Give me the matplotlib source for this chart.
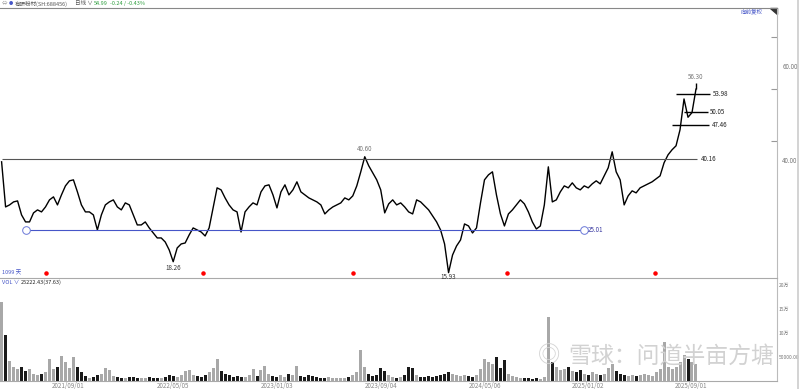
import pandas as pd
import matplotlib
matplotlib.use('Agg')
import matplotlib.pyplot as plt
import matplotlib.dates as mdates
from matplotlib.patches import Polygon
from matplotlib.lines import Line2D

plt.rcParams['font.family'] = ['Noto Sans CJK SC', 'DejaVu Sans']

# closes, roughly every 9 calendar days
close = [
    39.52, 29.92, 30.35, 30.99, 31.20, 28.22, 26.73, 26.73, 28.65, 29.29,
    28.86, 29.92, 31.42, 32.06, 30.35, 32.48, 34.40, 35.47, 35.68, 33.12,
    30.35, 28.86, 28.86, 28.22, 25.02, 28.22, 30.35, 30.99, 31.42, 29.92,
    29.29, 30.78, 30.35, 28.22, 26.09, 26.09, 26.73, 25.45, 24.38, 23.32,
    23.32, 22.46, 20.76, 18.26, 21.19, 22.04, 22.25, 23.96, 25.45, 25.02,
    24.59, 23.74, 25.45, 29.71, 33.98, 33.55, 31.84, 30.35, 29.29, 28.86,
    24.59, 28.86, 29.92, 30.78, 30.35, 33.12, 34.40, 34.62, 32.48, 29.71,
    33.12, 34.62, 32.48, 33.55, 35.26, 33.12, 32.48, 31.84, 31.42, 30.99,
    30.35, 28.43, 29.29, 29.92, 30.35, 30.78, 31.84, 31.42, 32.27, 34.40,
    37.39, 40.60, 38.67, 37.17, 35.68, 33.55, 28.65, 30.57, 31.42, 30.35,
    30.78, 29.92, 28.86, 28.43, 31.42, 30.99, 30.14, 29.29, 28.01, 26.73,
    25.02, 22.04, 15.93, 19.69, 21.61, 22.89, 26.30, 25.87, 24.38, 25.45,
    30.78, 35.68, 36.75, 37.39, 32.48, 28.43, 25.87, 28.43, 29.29, 30.35,
    31.42, 30.57, 28.86, 26.73, 25.23, 25.87, 30.35, 38.45, 30.99, 31.42,
    33.12, 34.40, 33.98, 35.04, 33.98, 33.55, 34.40, 33.98, 34.83, 35.47,
    34.83, 36.53, 38.24, 41.65, 37.39, 35.68, 30.35, 32.27, 33.34, 32.91,
    33.98, 34.40, 34.83, 35.26, 35.90, 36.53, 39.31, 41.01, 42.08, 42.93,
    46.34, 52.90, 49.00, 50.00, 54.99,
]
last_high = 56.30

volume = [
    165000, 95000, 42000, 30000, 26000, 30000, 20000, 24000, 15000, 12000,
    15000, 18000, 45000, 26000, 30000, 52000, 40000, 28000, 50000, 30000,
    18000, 10000, 7000, 8000, 12000, 14000, 28000, 22000, 10000, 8000,
    7000, 6000, 9000, 8000, 7000, 6000, 7000, 8000, 6000, 7000,
    6000, 9000, 12000, 10000, 8000, 12000, 20000, 22000, 12000, 10000,
    8000, 12000, 18000, 28000, 45000, 20000, 15000, 12000, 8000, 10000,
    8000, 9000, 12000, 25000, 10000, 22000, 32000, 15000, 10000, 8000,
    12000, 9000, 15000, 12000, 32000, 10000, 8000, 12000, 10000, 8000,
    7000, 6000, 8000, 7000, 6000, 7000, 6000, 8000, 12000, 18000,
    65000, 30000, 15000, 10000, 12000, 28000, 20000, 12000, 8000, 7000,
    9000, 12000, 30000, 28000, 12000, 9000, 8000, 10000, 9000, 10000,
    12000, 15000, 18000, 14000, 12000, 10000, 12000, 10000, 9000, 12000,
    25000, 45000, 40000, 35000, 50000, 28000, 44000, 15000, 10000, 8000,
    7000, 6000, 6000, 5000, 6000, 5000, 8000, 134000, 40000, 30000,
    22000, 25000, 30000, 20000, 18000, 22000, 15000, 12000, 18000, 14000,
    12000, 15000, 28000, 35000, 20000, 15000, 12000, 10000, 12000, 10000,
    12000, 15000, 12000, 10000, 18000, 25000, 81000, 30000, 25000, 30000,
    40000, 55000, 45000, 40000, 35000,
]

dates = pd.date_range('2021-03-29', '2025-09-12', periods=len(close))
tick_dates = ['2021-09-01', '2022-05-05', '2023-01-03', '2023-09-04',
              '2024-05-06', '2025-01-02', '2025-09-01']
dividend_dates = ['2021-07-12', '2022-07-14', '2023-06-30', '2024-06-25', '2025-06-09']

resist = 40.16
support = 25.01
short_levels = [53.98, 50.05, 47.46]
peak_hi, low_1, low_2 = 40.60, 18.26, 15.93

blue = '#4656c8'
gray = '#777777'

fig = plt.figure(figsize=(8, 3.89), dpi=100)
ax = fig.add_axes([0, 0.2853, 0.971, 0.6954])
axv = fig.add_axes([0, 0.0206, 0.971, 0.2647], sharex=ax)
ax.set_zorder(3)
ax.patch.set_visible(False)

x = mdates.date2num(dates)
step = x[1] - x[0]

# price
ax.plot(x, close, color='black', lw=1.0)
ax.vlines(x[-1], close[-1], last_high, color='black', lw=1.0)

ax.hlines(resist, x[0], x[-1] + 0.3 * step, color='#555555', lw=0.8)
ax.text(x[-1] + 1.1 * step, resist, '40.16', fontsize=4.5, va='center', color='#222')

ax.hlines(support, x[6], x[146], color=blue, lw=0.8)
ax.plot([x[6], x[146]], [support, support], 'o', ms=5.5, mfc='white', mec='#6a78d8', mew=0.7)
ax.text(x[146] + 1.0 * step, support, '25.01', fontsize=4.5, va='center', color='#3838a0')

# short black levels near the latest bars: (first bar index, extra steps past last bar)
spans = [(169, 3.6), (171, 2.9), (168, 3.3)]
for lv, (i0, end) in zip(short_levels, spans):
    ax.hlines(lv, x[i0], x[-1] + end * step, color='black', lw=1.0)
    ax.text(x[-1] + (end + 0.6) * step, lv, f'{lv:.2f}', fontsize=4.5, va='center', color='#222')

ax.annotate(f'{peak_hi:.2f}', (x[91], peak_hi), xytext=(0, 2.5), textcoords='offset points',
            ha='center', va='bottom', fontsize=4.5, color=gray)
ax.annotate(f'{last_high:.2f}', (x[-1], last_high), xytext=(0, 1.5), textcoords='offset points',
            ha='center', va='bottom', fontsize=4.5, color=gray)
ax.annotate(f'{low_1:.2f}', (x[43], low_1), xytext=(0, -1.5), textcoords='offset points',
            ha='center', va='top', fontsize=4.5, color='#333')
ax.annotate(f'{low_2:.2f}', (x[112], low_2), xytext=(0, -0.5), textcoords='offset points',
            ha='center', va='top', fontsize=4.5, color='#333')

ax.scatter(mdates.date2num(pd.to_datetime(dividend_dates)), [0.0185] * len(dividend_dates),
           transform=ax.get_xaxis_transform(), s=5, color='red', zorder=5, clip_on=False)

ax.set_ylim(14.79, 72.36)
ax.set_xlim(x[0] - 0.4 * step, x[0] + 777 / 4 * step)
ax.yaxis.tick_right()
ax.set_yticks([40, 60])
ax.set_yticklabels(['40.00', '60.00'])
ax.set_yticks([44, 55, 66], minor=True)
ax.tick_params(axis='y', which='major', length=0, labelsize=4.5, labelcolor=gray, pad=4)
ax.tick_params(axis='y', which='minor', direction='in', length=4, color='#999', width=0.8)
ax.tick_params(axis='x', which='both', bottom=False, labelbottom=False)
ax.spines['left'].set_visible(False)
ax.spines['top'].set_color('#888')
ax.spines['bottom'].set_color('#aaa')
ax.spines['right'].set_color('#bbb')
for sp in ax.spines.values():
    sp.set_linewidth(0.8)

ax.text(0.981, 0.993, '向前复权', transform=ax.transAxes, ha='right', va='top', fontsize=4, color=blue)
ax.add_patch(Polygon([[0.991, 1.0], [1.0, 1.0], [1.0, 0.975]], closed=True,
                     transform=ax.transAxes, color='#333', clip_on=False))
ax.text(0.002, 0.018, '1099 天', transform=ax.transAxes, va='center', fontsize=4, color=blue)

# volume
up = [True] + [close[i] >= close[i - 1] for i in range(1, len(close))]
vcol = ['#a8a8a8' if u else '#1a1a1a' for u in up]
axv.bar(x, volume, width=step * 0.75, color=vcol, linewidth=0)
axv.set_ylim(0, 214583)
axv.yaxis.tick_right()
axv.set_yticks([50000, 100000, 150000, 200000])
axv.set_yticklabels(['50000.00', '10万', '15万', '20万'])
axv.tick_params(axis='y', length=0, labelsize=3.6, labelcolor=gray, pad=1.5)
tk = mdates.date2num(pd.to_datetime(tick_dates))
axv.set_xticks(tk)
axv.set_xticklabels([d.replace('-', '/') for d in tick_dates])
axv.tick_params(axis='x', length=0, labelsize=4.5, labelcolor='#888', pad=1)
axv.spines['left'].set_visible(False)
axv.spines['top'].set_visible(False)
axv.spines['bottom'].set_color('#aaa')
axv.spines['right'].set_color('#bbb')
for sp in axv.spines.values():
    sp.set_linewidth(0.8)

axv.text(0.003, 0.955, 'VOL ∨', transform=axv.transAxes, va='center', fontsize=4, color=blue)
axv.text(0.027, 0.955, '25222.43(37.63)', transform=axv.transAxes, va='center', fontsize=4, color='#222')

# watermark
fig.text(0.672, 0.085, '◎', fontsize=16, color='#d2d2d2', va='center', ha='left')
fig.text(0.710, 0.085, '雪球：问道半亩方塘', fontsize=16.5, color='#d2d2d2', va='center', ha='left')

# header
hy = 0.991
fig.text(0.002, hy, '⇔', fontsize=4, color='#999', va='center')
fig.text(0.011, hy, '●', fontsize=3, color=blue, va='center')
fig.text(0.019, hy, '有研粉材(SH:688456)', fontsize=4, color='#555', va='center')
fig.text(0.094, hy, '日线 ∨', fontsize=4, color='#555', va='center')
fig.text(0.117, hy, '54.99', fontsize=4, color='#2e9e3e', va='center')
fig.text(0.137, hy, '-0.24 / -0.43%', fontsize=4, color='#2e9e3e', va='center')

fig.add_artist(Line2D([0.998, 0.998], [0, 1], color='#cccccc', lw=1.2))

fig.savefig('out.png', dpi=100)
